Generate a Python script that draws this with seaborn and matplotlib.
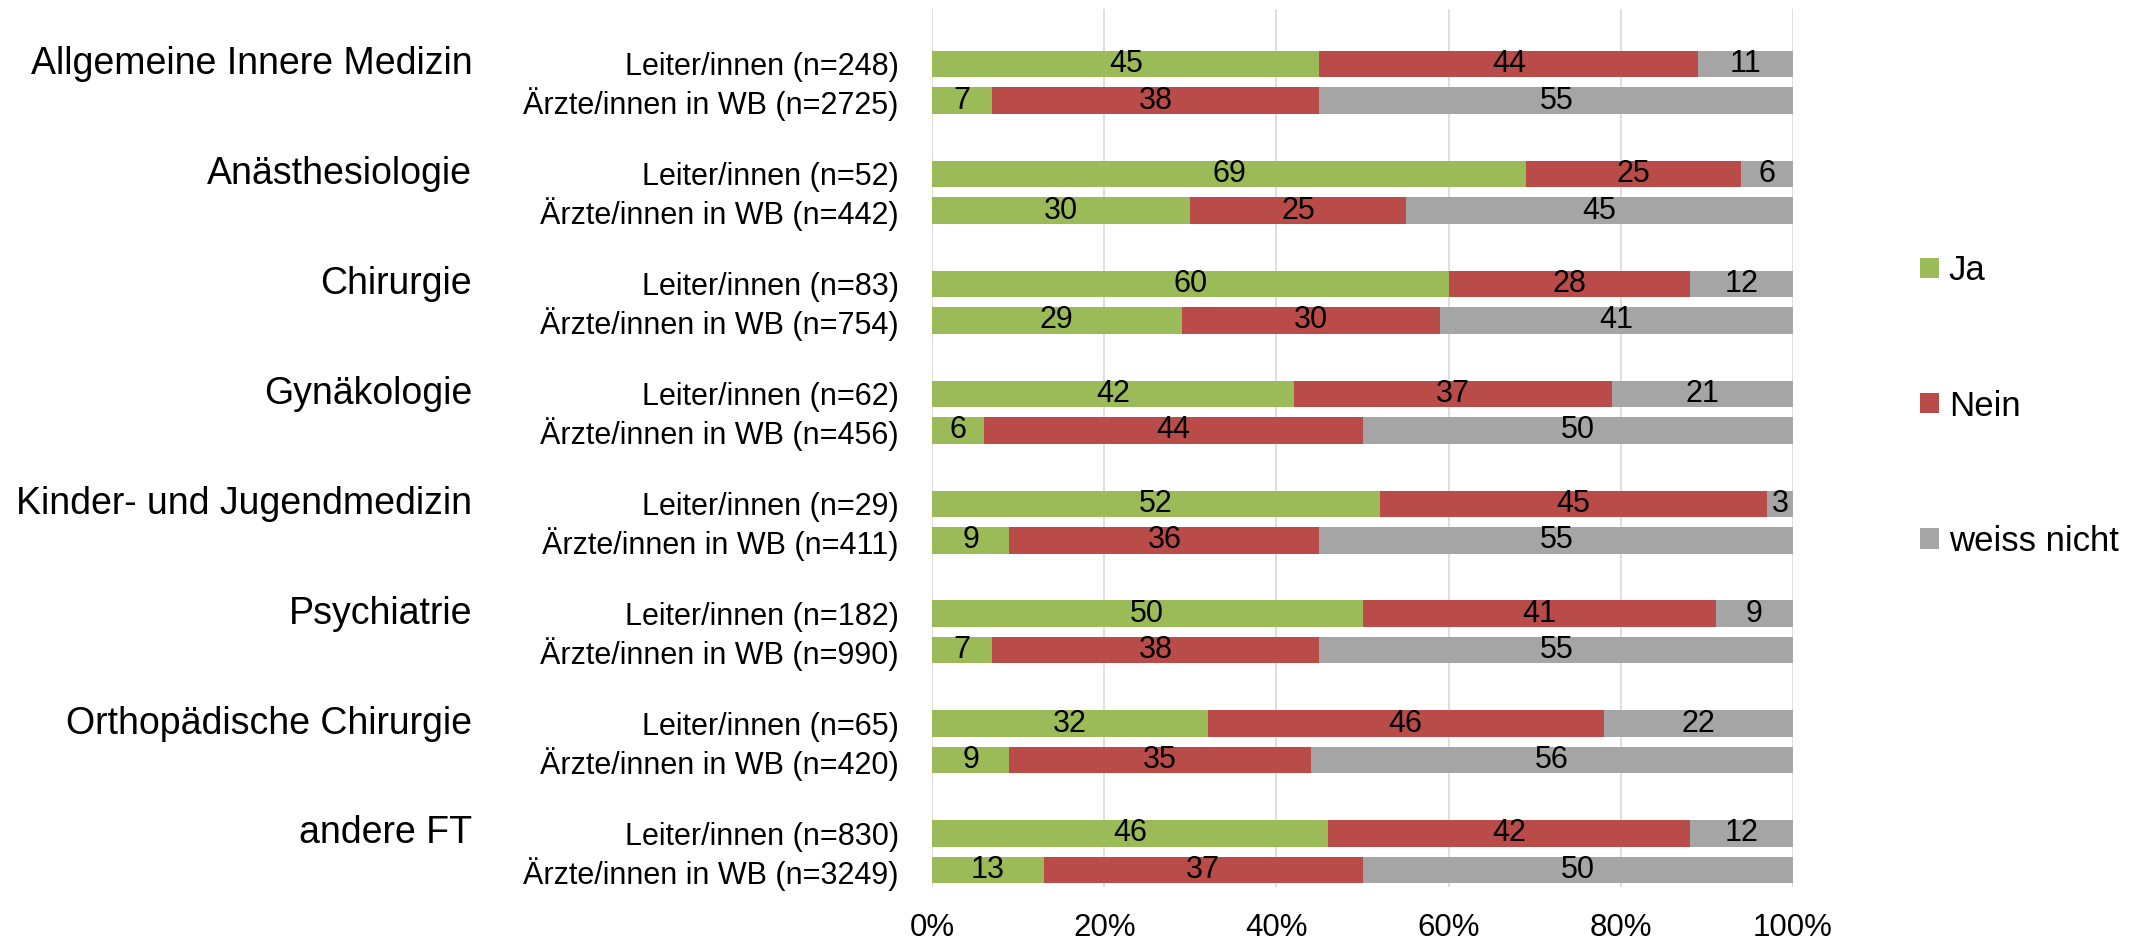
import pandas as pd
import matplotlib.pyplot as plt
import seaborn as sns
from matplotlib.patches import Patch

groups = ['Allgemeine Innere Medizin', 'Anästhesiologie', 'Chirurgie', 'Gynäkologie',
          'Kinder- und Jugendmedizin', 'Psychiatrie', 'Orthopädische Chirurgie', 'andere FT']
sub_leiter = ['Leiter/innen (n=248)', 'Leiter/innen (n=52)', 'Leiter/innen (n=83)',
              'Leiter/innen (n=62)', 'Leiter/innen (n=29)', 'Leiter/innen (n=182)',
              'Leiter/innen (n=65)', 'Leiter/innen (n=830)']
sub_aerzte = ['Ärzte/innen in WB (n=2725)', 'Ärzte/innen in WB (n=442)', 'Ärzte/innen in WB (n=754)',
              'Ärzte/innen in WB (n=456)', 'Ärzte/innen in WB (n=411)', 'Ärzte/innen in WB (n=990)',
              'Ärzte/innen in WB (n=420)', 'Ärzte/innen in WB (n=3249)']

# Leiter/innen
ja_l = [45, 69, 60, 42, 52, 50, 32, 46]
nein_l = [44, 25, 28, 37, 45, 41, 46, 42]
wn_l = [11, 6, 12, 21, 3, 9, 22, 12]
# Ärzte/innen in WB
ja_a = [7, 30, 29, 6, 9, 7, 9, 13]
nein_a = [38, 25, 30, 44, 36, 38, 35, 37]
wn_a = [55, 45, 41, 50, 55, 55, 56, 50]

series = ['Ja', 'Nein', 'weiss nicht']
colors = {'Ja': '#9BBB59', 'Nein': '#B94B48', 'weiss nicht': '#A5A5A5'}

plt.rcParams['font.family'] = ['Liberation Sans', 'DejaVu Sans']

# build rows: a blank spacer row before each pair
rows, order, ticklabels = [], [], []
for i, g in enumerate(groups):
    order += [f'gap{i}', f'L{i}', f'A{i}']
    ticklabels += ['', sub_leiter[i], sub_aerzte[i]]
    rows.append({'row': f'L{i}', 'Ja': ja_l[i], 'Nein': nein_l[i], 'weiss nicht': wn_l[i]})
    rows.append({'row': f'A{i}', 'Ja': ja_a[i], 'Nein': nein_a[i], 'weiss nicht': wn_a[i]})
df = pd.DataFrame(rows)
df['c_ja'] = df['Ja']
df['c_nein'] = df['Ja'] + df['Nein']
df['c_wn'] = df['Ja'] + df['Nein'] + df['weiss nicht']

fig = plt.figure(figsize=(21.46, 9.4), dpi=100)
ax = fig.add_axes([932 / 2146, 1 - 887 / 940, 861 / 2146, 878 / 940])

for col, s in [('c_wn', 'weiss nicht'), ('c_nein', 'Nein'), ('c_ja', 'Ja')]:
    sns.barplot(data=df, y='row', x=col, order=order, orient='h', color=colors[s],
                width=0.72, saturation=1, errorbar=None, ax=ax, zorder=3,
                edgecolor='none')

# value labels centred in each segment
pos = {r: k for k, r in enumerate(order)}
for _, r in df.iterrows():
    left = 0
    for s in series:
        v = r[s]
        ax.text(left + v / 2, pos[r['row']], f'{v}', ha='center', va='center',
                fontsize=22, color='black', zorder=4)
        left += v

ax.set_xlim(0, 100)
ax.set_ylim(23.46, -0.5)
ax.set_xticks(range(0, 101, 20))
ax.set_xticklabels([f'{t}%' for t in range(0, 101, 20)], fontsize=22.5)
ax.set_yticks(range(len(order)))
ax.set_yticklabels(ticklabels, fontsize=22)
ax.tick_params(axis='y', length=0, pad=24)
ax.tick_params(axis='x', length=0, pad=19)
ax.set_xlabel('')
ax.set_ylabel('')
ax.grid(axis='x', color='#D9D9D9', linewidth=1.2, zorder=0)
ax.grid(axis='y', visible=False)
for sp in ax.spines.values():
    sp.set_visible(False)

for i, g in enumerate(groups):
    ax.text(-0.534, pos[f'L{i}'], g, transform=ax.get_yaxis_transform(),
            ha='right', va='center', fontsize=27)

handles = [Patch(facecolor=colors[s], edgecolor='none') for s in series]
fig.legend(handles, series, loc='center left', bbox_to_anchor=(1889 / 2146, 1 - 406 / 940),
           frameon=False, fontsize=25, labelspacing=2.94, handlelength=0.53,
           handleheight=0.53, handletextpad=0.29)

fig.savefig('out.png', dpi=100)
